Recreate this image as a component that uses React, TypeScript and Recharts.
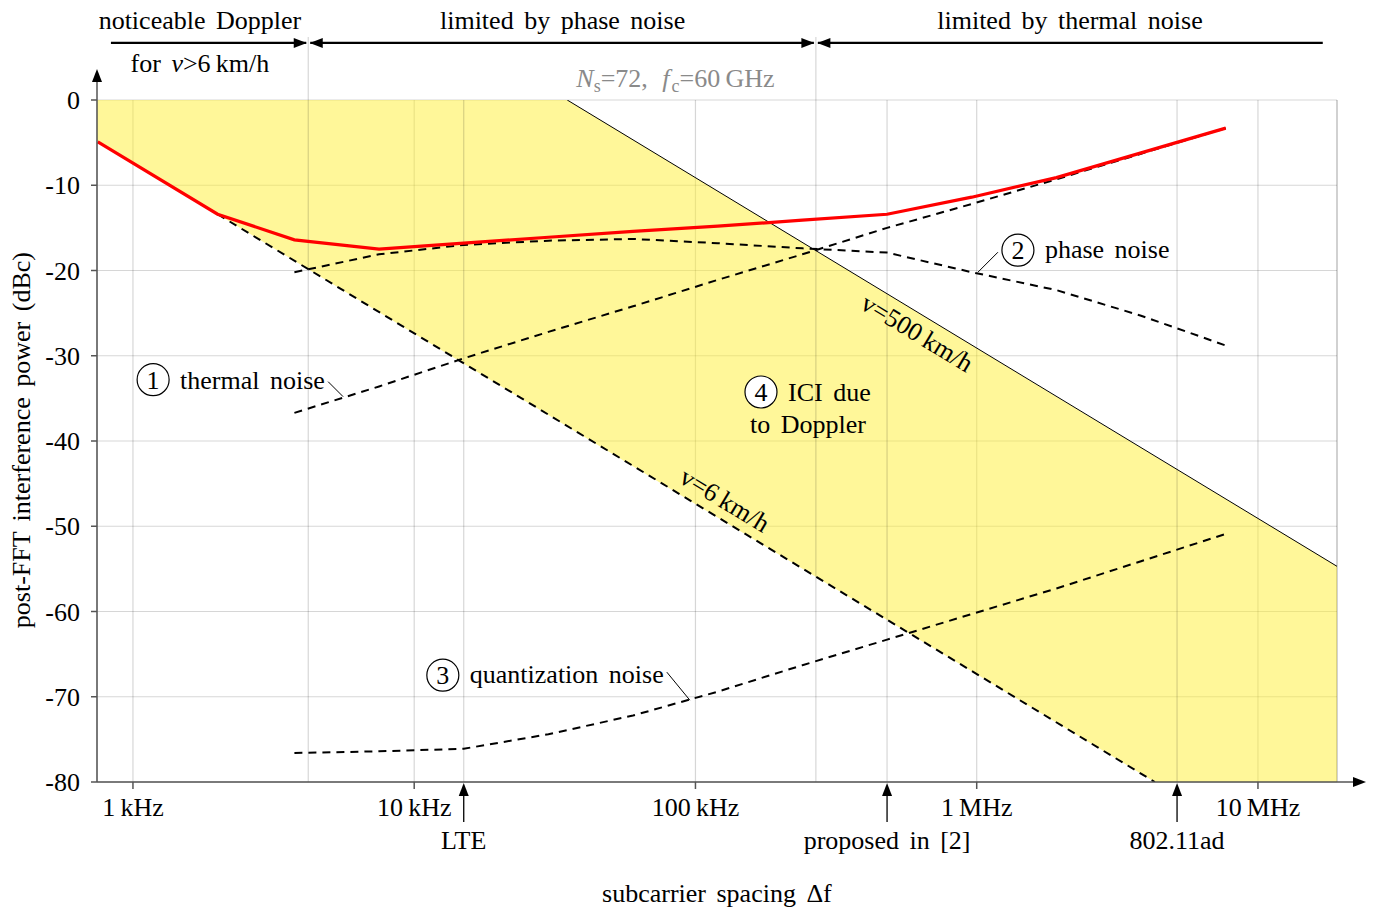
import { ComposedChart, Line, Area, XAxis, YAxis, CartesianGrid, ReferenceLine, ReferenceDot } from "recharts";

const FONT = '"Liberation Serif", "Times New Roman", serif';

// subcarrier spacings (Hz) where the noise curves are sampled
const spacing = [3750, 7500, 15000, 30000, 60000, 120000, 240000, 480000, 960000, 1920000, 3840000, 7680000];
const thermalDb = [-36.7, -33.6, -30.3, -27.2, -24.2, -21.1, -18.1, -15.0, -12.2, -9.3, -6.3, -3.3];
const phaseDb = [-20.2, -18.1, -17.0, -16.5, -16.3, -16.8, -17.4, -17.9, -20.2, -22.3, -25.3, -28.8];
const quantDb = [-76.6, -76.4, -76.1, -74.4, -72.2, -69.4, -66.3, -63.3, -60.3, -57.3, -54.1, -50.9];
const totalDb = [-16.4, -17.5, -16.8, -16.1, -15.4, -14.8, -14.1, -13.4, -11.4, -9.1, -6.2, -3.3];
// total curve left of the first sample (Doppler dominated)
const totalHeadF = [750, 2000];
const totalHeadDb = [-4.9, -13.4];

// Doppler ICI lines
const v6F = [2000, 4300000];
const v6Db = [-13.4, -80];
const v500F = [35000, 19100000];
const v500Db = [0, -54.7];

// yellow ICI band (between v=6 and v=500 km/h, clipped to the axes)
const bandF = [745, 35000, 4300000, 19100000];
const bandLo = [-4.8, -38.3, -80, -80];
const bandHi = [0, 0, -41.8, -54.7];

const xDomain = [745, 19100000];
const xTicks = [1e3, 1e4, 1e5, 1e6, 1e7];
const xTickLabels = ["1\u2009kHz", "10\u2009kHz", "100\u2009kHz", "1\u2009MHz", "10\u2009MHz"];
const yTicks = [0, -10, -20, -30, -40, -50, -60, -70, -80];

const markerF = [15000, 480000, 5156250];
const markerLabels = ["LTE", "proposed in [2]", "802.11ad"];
const extraGridF = [15000, 480000, 5156250, 19100000];
const regionEdgeF = [4200, 268000];

const regionArrowFrom = [835, 4200, 268000];
const regionArrowTo = [4200, 268000, 17000000];
const regionHeads: ("end" | "both" | "start")[] = ["end", "both", "start"];
const regionLabelF = [1730, 33700, 2146000];
const regionLabels = ["noticeable Doppler", "limited by phase noise", "limited by thermal noise"];

const toPts = (xs: number[], ys: number[]) => xs.map((f, i) => ({ f, v: ys[i] }));
const thermal = toPts(spacing, thermalDb);
const phase = toPts(spacing, phaseDb);
const quant = toPts(spacing, quantDb);
const total = [...toPts(totalHeadF, totalHeadDb), ...toPts(spacing, totalDb)];
const v6 = toPts(v6F, v6Db);
const v500 = toPts(v500F, v500Db);
const band = bandF.map((f, i) => ({ f, band: [bandLo[i], bandHi[i]] }));

const GRID = "rgba(0,0,0,0.16)";
const AXIS = "#555";
const txt = { fontFamily: FONT, fontSize: 26, fill: "#000", wordSpacing: 4 } as const;

const head = (tx: number, ty: number, dx: number, dy: number, len = 13, half = 5) => {
  const bx = tx - dx * len, by = ty - dy * len;
  const px = -dy * half, py = dx * half;
  return `${tx},${ty} ${bx + px},${by + py} ${bx - px},${by - py}`;
};

const regionArrow = (heads: "start" | "end" | "both") => (p: any) => (
  <g>
    <line x1={p.x1 + (heads === "end" ? 0 : 2)} y1={p.y1} x2={p.x2 - (heads === "start" ? 0 : 2)} y2={p.y2} stroke="#000" strokeWidth={2.4} />
    {heads !== "start" && <polygon points={head(p.x2 - 1.5, p.y2, 1, 0)} fill="#000" />}
    {heads !== "end" && <polygon points={head(p.x1 + 1.5, p.y1, -1, 0)} fill="#000" />}
  </g>
);

const Circled = ({ x, y, n, fill = "#fff" }: { x: number; y: number; n: string; fill?: string }) => (
  <g>
    <circle cx={x} cy={y} r={16} fill={fill} stroke="#000" strokeWidth={1.2} />
    <text x={x} y={y + 9} textAnchor="middle" {...txt}>{n}</text>
  </g>
);

export default function App() {
  return (
    <div style={{ position: "absolute", left: 0, top: 0, width: 1377, height: 908, background: "#fff" }}>
      <ComposedChart width={1377} height={908} margin={{ top: 100, right: 40, bottom: 96, left: 37 }}>
        <CartesianGrid stroke={GRID} strokeWidth={1.2} />
        <XAxis
          dataKey="f"
          type="number"
          scale="log"
          domain={xDomain}
          allowDataOverflow
          ticks={xTicks}
          tickFormatter={(v: number) => xTickLabels[xTicks.indexOf(v)] ?? ""}
          tick={{ fontFamily: FONT, fontSize: 26, fill: "#000" }}
          tickSize={7}
          tickMargin={9}
          height={30}
          stroke={AXIS}
          strokeWidth={1.5}
        />
        <YAxis
          type="number"
          domain={[-80, 0]}
          allowDataOverflow
          ticks={yTicks}
          tick={{ fontFamily: FONT, fontSize: 26, fill: "#000" }}
          tickSize={6}
          tickMargin={11}
          width={60}
          stroke={AXIS}
          strokeWidth={1.5}
        />

        {extraGridF.map((f) => (
          <ReferenceLine key={f} x={f} stroke={GRID} strokeWidth={1.2} ifOverflow="visible" />
        ))}
        {regionEdgeF.map((f) => (
          <ReferenceLine key={f} segment={[{ x: f, y: -80 }, { x: f, y: 7.4 }]} stroke={GRID} strokeWidth={1.2} ifOverflow="visible" />
        ))}

        <Area data={band} dataKey="band" type="linear" fill="#ffef33" fillOpacity={0.5} stroke="none" isAnimationActive={false} />
        <Line data={v500} dataKey="v" type="linear" stroke="#000" strokeWidth={1} dot={false} isAnimationActive={false} />
        <Line data={v6} dataKey="v" type="linear" stroke="#000" strokeWidth={2} strokeDasharray="8 6" dot={false} isAnimationActive={false} />
        <Line data={thermal} dataKey="v" type="linear" stroke="#000" strokeWidth={2} strokeDasharray="8 6" dot={false} isAnimationActive={false} />
        <Line data={phase} dataKey="v" type="linear" stroke="#000" strokeWidth={2} strokeDasharray="8 6" dot={false} isAnimationActive={false} />
        <Line data={quant} dataKey="v" type="linear" stroke="#000" strokeWidth={2} strokeDasharray="8 6" dot={false} isAnimationActive={false} />
        <Line data={total} dataKey="v" type="linear" stroke="#ff0000" strokeWidth={3.2} dot={false} isAnimationActive={false} />

        {/* axis arrow tips */}
        <ReferenceDot x={xDomain[0]} y={0} ifOverflow="visible" shape={(p: any) => (
          <g>
            <line x1={p.cx} y1={p.cy} x2={p.cx} y2={p.cy - 20} stroke={AXIS} strokeWidth={1.5} />
            <polygon points={head(p.cx, p.cy - 31, 0, -1, 13, 5)} fill="#000" />
          </g>
        )} />
        <ReferenceDot x={xDomain[1]} y={-80} ifOverflow="visible" shape={(p: any) => (
          <g>
            <line x1={p.cx} y1={p.cy} x2={p.cx + 18} y2={p.cy} stroke={AXIS} strokeWidth={1.5} />
            <polygon points={head(p.cx + 29, p.cy, 1, 0, 13, 5)} fill="#000" />
          </g>
        )} />

        {/* standard markers below the x axis */}
        {markerF.map((f, i) => (
          <ReferenceDot key={f} x={f} y={-80} ifOverflow="visible" shape={(p: any) => (
            <g>
              <line x1={p.cx} y1={p.cy + 12} x2={p.cx} y2={p.cy + 40} stroke="#000" strokeWidth={1.3} />
              <polygon points={head(p.cx, p.cy + 1, 0, -1, 13, 5)} fill="#000" />
              <text x={p.cx} y={p.cy + 67} textAnchor="middle" {...txt}>{markerLabels[i]}</text>
            </g>
          )} />
        ))}

        {/* axis titles */}
        <ReferenceDot x={119200} y={-80} ifOverflow="visible" shape={(p: any) => (
          <text x={p.cx} y={p.cy + 120} textAnchor="middle" {...txt}>subcarrier spacing Δf</text>
        )} />
        <ReferenceDot x={xDomain[0]} y={-39.9} ifOverflow="visible" shape={(p: any) => (
          <text x={p.cx - 75} y={p.cy} transform={`rotate(-90 ${p.cx - 75} ${p.cy})`} textAnchor="middle" dominantBaseline="central" {...txt}>
            post-FFT interference power (dBc)
          </text>
        )} />

        {/* region arrows and labels above the plot */}
        {regionArrowFrom.map((f, i) => (
          <ReferenceLine key={f} segment={[{ x: f, y: 6.7 }, { x: regionArrowTo[i], y: 6.7 }]} ifOverflow="visible" shape={regionArrow(regionHeads[i])} />
        ))}
        {regionLabelF.map((f, i) => (
          <ReferenceDot key={f} x={f} y={8.3} ifOverflow="visible" shape={(p: any) => (
            <text x={p.cx} y={p.cy} textAnchor="middle" {...txt}>{regionLabels[i]}</text>
          )} />
        ))}
        <ReferenceDot x={1730} y={3.3} ifOverflow="visible" shape={(p: any) => (
          <text x={p.cx} y={p.cy} textAnchor="middle" {...txt}>
            for <tspan fontStyle="italic">v</tspan>&gt;6{"\u2009"}km/h
          </text>
        )} />
        <ReferenceDot x={84900} y={1.5} ifOverflow="visible" shape={(p: any) => (
          <text x={p.cx} y={p.cy} textAnchor="middle" {...txt} fill="#8a8a8a" wordSpacing={8}>
            <tspan fontStyle="italic">N</tspan>
            <tspan fontSize={18} dy={5}>s</tspan>
            <tspan dy={-5}>=72, </tspan>
            <tspan fontStyle="italic">f</tspan>
            <tspan fontSize={18} dy={5} dx={2}>c</tspan>
            <tspan dy={-5}>=60{"\u2009"}GHz</tspan>
          </text>
        )} />

        {/* line labels */}
        <ReferenceDot x={664000} y={-25.5} ifOverflow="visible" shape={(p: any) => (
          <text x={p.cx} y={p.cy} transform={`rotate(31.2 ${p.cx} ${p.cy})`} dy={27} textAnchor="middle" {...txt} wordSpacing={0}>
            v=500{"\u2009"}km/h
          </text>
        )} />
        <ReferenceDot x={118000} y={-48.7} ifOverflow="visible" shape={(p: any) => (
          <text x={p.cx} y={p.cy} transform={`rotate(31.2 ${p.cx} ${p.cy})`} dy={-9} textAnchor="middle" {...txt} wordSpacing={0}>
            v=6{"\u2009"}km/h
          </text>
        )} />

        {/* numbered annotations */}
        <ReferenceDot x={5680} y={-34.8} ifOverflow="visible" shape={(p: any) => (
          <g>
            <line x1={p.cx - 2} y1={p.cy} x2={p.cx - 17} y2={p.cy - 15} stroke="#000" strokeWidth={1} />
            <Circled x={p.cx - 192} y={p.cy - 17} n="1" />
            <text x={p.cx - 165} y={p.cy - 8} {...txt}>thermal noise</text>
          </g>
        )} />
        <ReferenceDot x={1010000} y={-20.2} ifOverflow="visible" shape={(p: any) => (
          <g>
            <line x1={p.cx} y1={p.cy} x2={p.cx + 20} y2={p.cy - 20} stroke="#000" strokeWidth={1} />
            <Circled x={p.cx + 40} y={p.cy - 22} n="2" />
            <text x={p.cx + 67} y={p.cy - 14} {...txt}>phase noise</text>
          </g>
        )} />
        <ReferenceDot x={95500} y={-70.4} ifOverflow="visible" shape={(p: any) => (
          <g>
            <line x1={p.cx} y1={p.cy} x2={p.cx - 23} y2={p.cy - 28} stroke="#000" strokeWidth={1} />
            <Circled x={p.cx - 247} y={p.cy - 25} n="3" />
            <text x={p.cx - 220} y={p.cy - 17} {...txt}>quantization noise</text>
          </g>
        )} />
        <ReferenceDot x={171000} y={-34.25} ifOverflow="visible" shape={(p: any) => (
          <g>
            <Circled x={p.cx} y={p.cy} n="4" />
            <text x={p.cx + 27} y={p.cy + 9} {...txt}>ICI due</text>
            <text x={p.cx - 11} y={p.cy + 41} {...txt}>to Doppler</text>
          </g>
        )} />
      </ComposedChart>
    </div>
  );
}
